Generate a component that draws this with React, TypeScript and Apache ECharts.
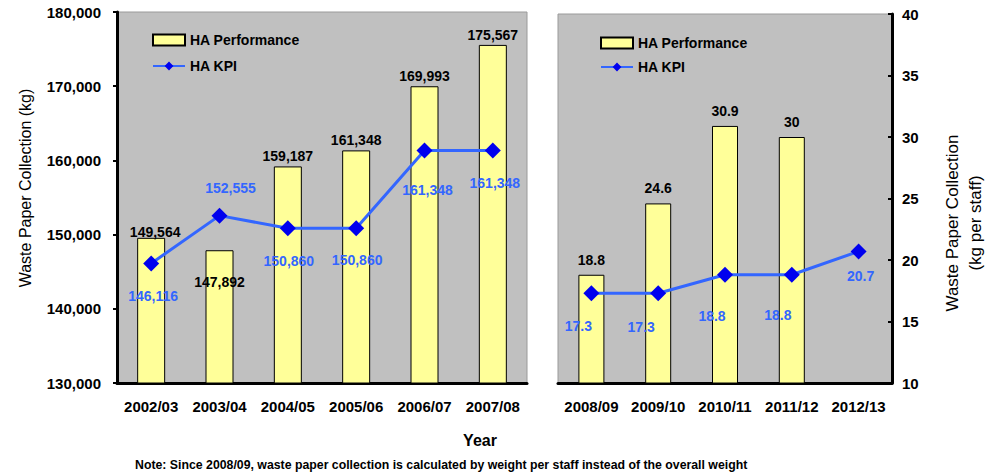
import React, { useEffect, useRef } from "react";
import * as echarts from "echarts";

const leftCategories = ["2002/03", "2003/04", "2004/05", "2005/06", "2006/07", "2007/08"];
const leftPerformance = [149564, 147892, 159187, 161348, 169993, 175567];
const leftKpi = [146116, 152555, 150860, 150860, 161348, 161348];

const rightCategories = ["2008/09", "2009/10", "2010/11", "2011/12", "2012/13"];
const rightPerformance: (number | null)[] = [18.8, 24.6, 30.9, 30, null];
const rightKpi = [17.3, 17.3, 18.8, 18.8, 20.7];

const seriesNames = ["HA Performance", "HA KPI"];
const noteText =
  "Note: Since 2008/09, waste paper collection is calculated by weight per staff instead of the overall weight";

// label placement tweaks (layout only)
const leftKpiLabelOffsets = [[2, 33], [11, -28], [1, 33], [1, 32], [3, 40], [2, 33]];
const rightKpiLabelOffsets = [[-13, 33], [-17, 34], [-13, 41], [-14, 40], [2, 25]];
const leftBarLabelOffsets = [[4, 4], [0, 42], [0, 0], [0, 0], [0, 0], [0, 0]];

const FONT = 'Arial, "Liberation Sans", sans-serif';
const fmt = (v: number) => v.toLocaleString("en-US");

export default function App() {
  const ref = useRef<HTMLDivElement>(null);
  useEffect(() => {
    document.body.style.margin = "0";
    if (!ref.current) return;
    const chart = echarts.init(ref.current, undefined, { renderer: "svg" });

    const axisLineStyle = { color: "#000", width: 3 };
    const kpiLabelBase = {
      show: true,
      position: "inside",
      color: "#3366ff",
      fontWeight: "bold",
      fontSize: 14,
      fontFamily: FONT,
    };

    const option: any = {
      animation: false,
      textStyle: { fontFamily: FONT },
      grid: [
        {
          left: 117, top: 12, width: 410, height: 371,
          show: true, backgroundColor: "#c0c0c0", borderColor: "#9a9a9a", borderWidth: 1,
        },
        {
          left: 558, top: 14, width: 334, height: 369,
          show: true, backgroundColor: "#c0c0c0", borderColor: "#9a9a9a", borderWidth: 1,
        },
      ],
      legend: [
        {
          data: [{ name: seriesNames[0], icon: "rect" }, seriesNames[1]],
          orient: "vertical", left: 147, top: 28, itemWidth: 32, itemHeight: 11, itemGap: 12,
          textStyle: { fontSize: 14, fontWeight: "bold", color: "#000", fontFamily: FONT },
          selectedMode: false,
        },
        {
          data: [{ name: seriesNames[0], icon: "rect" }, seriesNames[1]],
          orient: "vertical", left: 595, top: 31, itemWidth: 32, itemHeight: 11, itemGap: 10,
          textStyle: { fontSize: 14, fontWeight: "bold", color: "#000", fontFamily: FONT },
          selectedMode: false,
        },
      ],
      xAxis: [
        {
          type: "category", gridIndex: 0, data: leftCategories,
          axisLine: { lineStyle: axisLineStyle },
          axisTick: { inside: true, length: 5, lineStyle: { color: "#000", width: 2 } },
          axisLabel: { color: "#000", fontSize: 15, fontWeight: "bold", margin: 16, fontFamily: FONT, interval: 0 },
        },
        {
          type: "category", gridIndex: 1, data: rightCategories,
          axisLine: { lineStyle: axisLineStyle },
          axisTick: { inside: true, length: 5, lineStyle: { color: "#000", width: 2 } },
          axisLabel: { color: "#000", fontSize: 15, fontWeight: "bold", margin: 16, fontFamily: FONT, interval: 0 },
        },
      ],
      yAxis: [
        {
          type: "value", gridIndex: 0, min: 130000, max: 180000, interval: 10000,
          axisLine: { show: true, lineStyle: axisLineStyle },
          axisTick: { show: true, length: 4, lineStyle: { color: "#000", width: 2 } },
          splitLine: { show: false },
          axisLabel: { color: "#000", fontSize: 15, fontWeight: "bold", margin: 16, fontFamily: FONT, formatter: (v: number) => fmt(v) },
        },
        {
          type: "value", gridIndex: 1, position: "right", min: 10, max: 40, interval: 5,
          axisLine: { show: true, lineStyle: axisLineStyle },
          axisTick: { show: true, inside: true, length: 4, lineStyle: { color: "#000", width: 2 } },
          splitLine: { show: false },
          axisLabel: { color: "#000", fontSize: 15, fontWeight: "bold", margin: 10, fontFamily: FONT },
        },
      ],
      series: [
        {
          name: seriesNames[0], type: "bar", xAxisIndex: 0, yAxisIndex: 0, barWidth: 28,
          itemStyle: { color: "#ffff99", borderColor: "#000", borderWidth: 1 },
          label: {
            show: true, position: "top", distance: 3, color: "#000", fontWeight: "bold",
            fontSize: 14, fontFamily: FONT, formatter: (p: any) => fmt(p.value),
          },
          data: leftPerformance.map((v, i) => ({ value: v, label: { offset: leftBarLabelOffsets[i] } })),
        },
        {
          name: seriesNames[1], type: "line", xAxisIndex: 0, yAxisIndex: 0,
          symbol: "diamond", symbolSize: 16,
          lineStyle: { color: "#3366ff", width: 3 },
          itemStyle: { color: "#0000ee" },
          label: { ...kpiLabelBase, formatter: (p: any) => fmt(p.value) },
          data: leftKpi.map((v, i) => ({ value: v, label: { offset: leftKpiLabelOffsets[i] } })),
          z: 3,
        },
        {
          name: seriesNames[0], type: "bar", xAxisIndex: 1, yAxisIndex: 1, barWidth: 26,
          itemStyle: { color: "#ffff99", borderColor: "#000", borderWidth: 1 },
          label: {
            show: true, position: "top", distance: 8, color: "#000", fontWeight: "bold",
            fontSize: 14, fontFamily: FONT,
          },
          data: rightPerformance,
        },
        {
          name: seriesNames[1], type: "line", xAxisIndex: 1, yAxisIndex: 1,
          symbol: "diamond", symbolSize: 16,
          lineStyle: { color: "#3366ff", width: 3 },
          itemStyle: { color: "#0000ee" },
          label: { ...kpiLabelBase },
          data: rightKpi.map((v, i) => ({ value: v, label: { offset: rightKpiLabelOffsets[i] } })),
          z: 3,
        },
      ],
      graphic: [
        {
          type: "text", x: 25, y: 188, rotation: Math.PI / 2,
          style: {
            text: "Waste Paper Collection (kg)", fill: "#000", font: `16px ${FONT}`,
            textAlign: "center", textVerticalAlign: "middle",
          },
        },
        {
          type: "text", x: 964, y: 223, rotation: Math.PI / 2,
          style: {
            text: "Waste Paper Collection\n(kg per staff)", fill: "#000", font: `17px ${FONT}`,
            lineHeight: 23, textAlign: "center", textVerticalAlign: "middle",
          },
        },
        {
          type: "text", x: 480, y: 440,
          style: {
            text: "Year", fill: "#000", font: `bold 16px ${FONT}`,
            textAlign: "center", textVerticalAlign: "middle",
          },
        },
        {
          type: "text", x: 135, y: 465,
          style: {
            text: noteText, fill: "#000", font: `bold 12.3px ${FONT}`,
            textAlign: "left", textVerticalAlign: "middle",
          },
        },
      ],
    };
    chart.setOption(option);
    return () => chart.dispose();
  }, []);
  return <div ref={ref} style={{ width: 994, height: 473 }} />;
}
